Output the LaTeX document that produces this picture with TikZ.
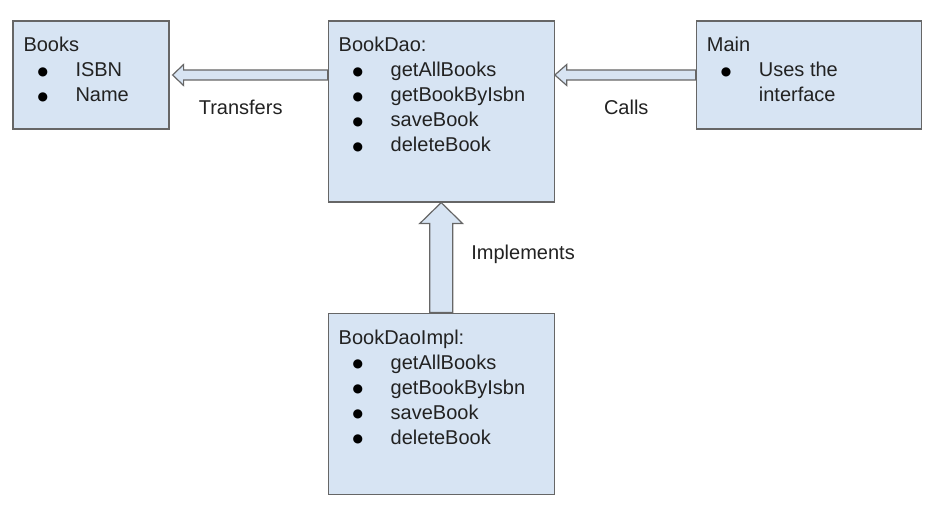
\documentclass[tikz,border=0pt]{standalone}
\usepackage{fontspec}
\setmainfont{Liberation Sans}
\newfontfamily\dotfont{DejaVu Sans}
\usetikzlibrary{positioning, calc}
\definecolor{boxfill}{HTML}{D7E4F3}
\definecolor{boxline}{HTML}{666666}
\definecolor{ink}{HTML}{222222}
\newcommand{\bigdot}{\raisebox{1.5pt}{\color{black}\dotfont\fontsize{12}{12}\selectfont ●}}
\newcommand{\itm}[1]{\\\hspace*{14pt}\makebox[38pt][l]{\bigdot}#1}
\newcommand{\boxbody}[3]{\parbox[c][#2][t]{#1}{\rule{0pt}{31pt}#3}}

\begin{document}
\begin{tikzpicture}[x=1pt, y=1pt,
    box/.style={draw=boxline, fill=boxfill, line width=1.2pt, inner xsep=10.5pt, inner ysep=0pt, text=ink, font=\fontsize{20}{25}\selectfont},
    hollow/.style={draw=boxline, fill=boxfill, line width=1.2pt, line join=miter},
    lbl/.style={text=ink, inner sep=0pt, font=\fontsize{20}{25}\selectfont}]
    \useasboundingbox (0,0) rectangle (938,-510);

    \node[box] (books) at (91,-75) {\boxbody{135pt}{108pt}{Books\itm{ISBN}\itm{Name}}};

    \node[box, right=158pt of books.north east, anchor=north west] (dao) {\boxbody{205pt}{181pt}{BookDao:\itm{getAllBooks}\itm{getBookByIsbn}\itm{saveBook}\itm{deleteBook}}};

    \node[box, right=141pt of dao.north east, anchor=north west] (main) {\boxbody{204pt}{108pt}{Main\itm{Uses the}\\\hspace*{52pt}interface}};

    \node[box, below=110pt of dao] (impl) {\boxbody{205pt}{181pt}{BookDaoImpl:\itm{getAllBooks}\itm{getBookByIsbn}\itm{saveBook}\itm{deleteBook}}};

    % block arrows
    \draw[hollow] ($(books.east)+(3,0)$) -- ++(11,10.5) -- ++(0,-5.5) -- ($(dao.west |- books.east)+(0,5)$) -- ++(0,-10) -- ($(books.east)+(14,-5)$) -- ++(0,-5.5) -- cycle;
    \draw[hollow] (dao.east |- main.west) -- ++(12,10.5) -- ++(0,-5.5) -- ($(main.west)+(0,5)$) -- ++(0,-10) -- ($(dao.east |- main.west)+(12,-5)$) -- ++(0,-5.5) -- cycle;
    \draw[hollow] (dao.south) -- ++(21.5,-21) -- ++(-10,0) -- ($(impl.north)+(11.5,0)$) -- ++(-23,0) -- ($(dao.south)+(-11.5,-21)$) -- ++(-10,0) -- cycle;

    \node[lbl, anchor=base west] (transfers) at ($(books.east)+(29,-40)$) {Transfers};
    \node[lbl, anchor=base west] (calls) at ($(dao.east |- main.west)+(49,-40)$) {Calls};
    \node[lbl, anchor=base west] (implements) at ($(dao.south)+(30,-57)$) {Implements};
\end{tikzpicture}
\end{document}
